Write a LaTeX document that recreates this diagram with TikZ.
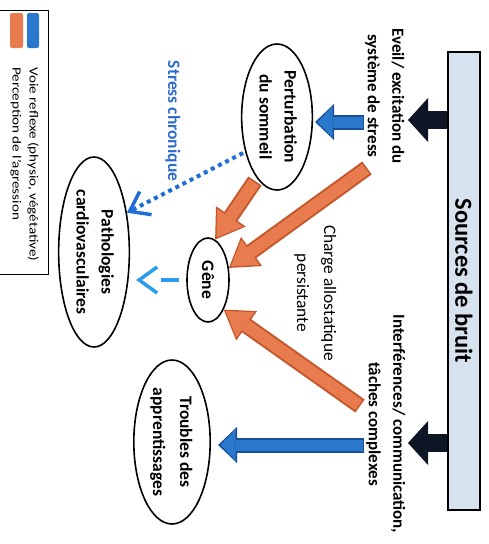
\documentclass[tikz,border=0pt]{standalone}
\usepackage{fontspec}
\setmainfont{Carlito}
\usetikzlibrary{arrows.meta,shapes.geometric,calc}
\newcommand\vtxt[2][1]{\rotatebox{-90}{\scalebox{#1}[1]{#2}}}
\newcommand\twol[2]{\begin{tabular}{@{}c@{}}#1\\#2\end{tabular}}
\definecolor{srcfill}{HTML}{D6E2EE}
\definecolor{navy}{HTML}{0E1626}
\definecolor{bluef}{HTML}{2A78CC}
\definecolor{blued}{HTML}{1A4F9A}
\definecolor{orf}{HTML}{E97C4E}
\definecolor{ord}{HTML}{C4562C}
\definecolor{dotblue}{HTML}{1F6ED8}
\definecolor{chev}{HTML}{2A9BEE}
\definecolor{txtblue}{HTML}{2D6CCB}
\tikzset{
  ell/.style={ellipse, draw, line width=1.6pt, fill=white, inner sep=0pt, font=\bfseries\fontsize{17.5}{25}\selectfont},
  lbl/.style={font=\bfseries\fontsize{17}{24.5}\selectfont, align=center, inner sep=0pt},
  lblr/.style={font=\fontsize{17.4}{27}\selectfont, align=center, inner sep=0pt},
  legtxt/.style={font=\fontsize{12.5}{14}\selectfont, inner sep=0pt, anchor=north},
  blk/.style={draw=navy, line width=18pt, -{Triangle[length=20pt,width=44pt,line width=0pt]}},
  orarr/.style={draw=ord, line width=16pt, -{Triangle[length=28pt,width=36pt,line width=0pt]},
    postaction={draw=orf, line width=12pt, shorten >=2.5pt, shorten <=1.5pt, -{Triangle[length=24pt,width=31pt,line width=0pt]}}},
  bluarr/.style={draw=blued, line width=15pt, -{Triangle[length=19pt,width=36pt,line width=0pt]},
    postaction={draw=bluef, line width=11pt, shorten >=2.5pt, shorten <=1.5pt, -{Triangle[length=15pt,width=31pt,line width=0pt]}}},
  chevron/.style={-{Straight Barb[length=18pt,width=26pt,line width=3.5pt]}},
}
\begin{document}
\begin{tikzpicture}[x=1pt,y=-1pt]
\useasboundingbox (0,0) rectangle (489,544);
% legend
\draw[line width=1pt] (-2,10) rectangle (48,274);
\fill[bluef, rounded corners=2pt] (27,13) rectangle (39,48);
\fill[orf, rounded corners=2pt] (10,13) rectangle (23,48);
\node[legtxt] (lg1) at (33,67) {\vtxt[1.21]{Voie reflexe (physio, végétative)}};
\node[legtxt] (lg2) at (16,67) {\vtxt[1.21]{Perception de l'agression}};
% source box
\node[draw, line width=1.4pt, fill=srcfill, minimum width=32pt, minimum height=458pt, inner sep=0pt] (src) at (464,281)
  {\vtxt{\bfseries\fontsize{24.5}{28}\selectfont Sources de bruit}};
% labels
\node[lbl] (eveil) at (385,96) {\vtxt{\twol{Eveil/ excitation du}{système de stress}}};
\node[lbl] (interf) at (386,424) {\vtxt{\twol{Interférences/ communication,}{tâches complexes}}};
\node[lblr] (charge) at (316,293) {\vtxt{\twol{Charge allostatique}{persistante}}};
\node[lbl, text=txtblue, font=\bfseries\fontsize{17.5}{20}\selectfont] (stress) at (173,121) {\vtxt{Stress chronique}};
% ellipses
\node[ell, minimum width=66pt, minimum height=146pt] (perturb) at (277,117) {\vtxt{\twol{Perturbation}{du sommeil}}};
\node[ell, minimum width=42pt, minimum height=84pt] (gene) at (208,280) {\vtxt{Gêne}};
\node[ell, minimum width=68pt, minimum height=190pt] (pathol) at (94,252) {\vtxt{\twol{Pathologies}{cardiovasculaires}}};
\node[ell, minimum width=76pt, minimum height=164pt, font=\bfseries\fontsize{17.5}{27}\selectfont] (troubles) at (172,442) {\vtxt{\twol{Troubles des}{apprentissages}}};
% coordinates
\coordinate (b1) at (408,120);
\coordinate (b2) at (408,443);
\coordinate (u1) at (364,122);
\coordinate (u1e) at (315,122);
\coordinate (u2) at (364,445);
\coordinate (u2e) at (218,445);
\coordinate (o1) at (367,168);
\coordinate (o2) at (255,181);
\coordinate (o3) at (360,406);
\coordinate (d1) at (243,153);
% connectors
\draw[blk] (src.west |- b1) -- (b1);
\draw[blk] (src.west |- b2) -- (b2);
\draw[bluarr] (u1) -- (u1e);
\draw[bluarr] (u2) -- (u2e);
\draw[orarr] (o1) -- (gene.30);
\draw[orarr] (o2) -- (gene.80);
\draw[orarr] (o3) -- (gene.-62);
\draw[dotblue, line width=4pt, dash pattern=on 4pt off 4pt, chevron] (d1) -- (pathol.50);
\draw[chev, line width=4pt, dash pattern=on 0pt off 7pt on 18pt off 100pt, chevron] (gene.west) -- ([xshift=6pt]gene.west -| pathol.east);
\end{tikzpicture}
\end{document}
